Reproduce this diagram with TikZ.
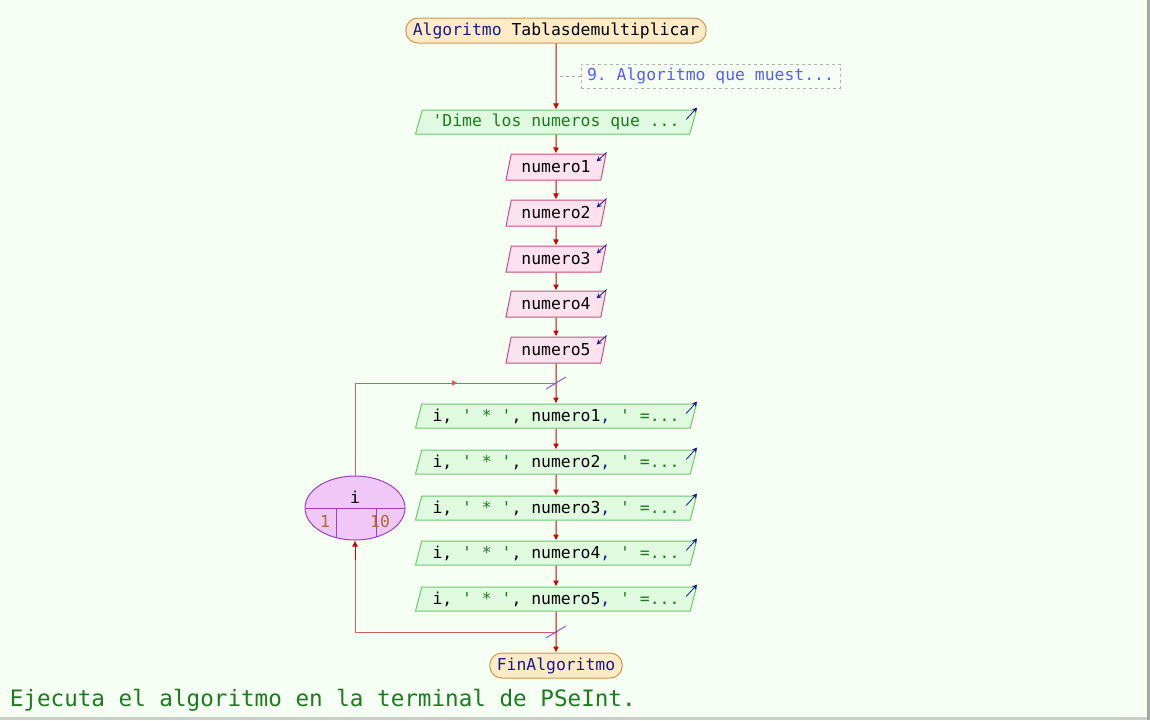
\documentclass[tikz,border=0pt]{standalone}
\usepackage{fontspec}
\setmonofont{DejaVu Sans Mono}
\usetikzlibrary{shapes.geometric,arrows.meta}
\definecolor{fondo}{HTML}{F5FFF3}
\definecolor{termfondo}{HTML}{FDEBC8}
\definecolor{termborde}{HTML}{CC9A4A}
\definecolor{salfondo}{HTML}{E0FAE0}
\definecolor{salborde}{HTML}{6CC86C}
\definecolor{entfondo}{HTML}{FCE2EE}
\definecolor{entborde}{HTML}{C85080}
\definecolor{lazofondo}{HTML}{F0C8F8}
\definecolor{lazoborde}{HTML}{A040C0}
\definecolor{rojo}{HTML}{CC0000}
\definecolor{rojoclaro}{HTML}{D06060}
\definecolor{azul}{HTML}{1A1A8C}
\definecolor{verde}{HTML}{1E7A1E}
\definecolor{coment}{HTML}{5A5AFF}
\definecolor{cafe}{HTML}{B06A30}
\tikzset{
  terminal/.style={rounded corners=12pt,draw=termborde,fill=termfondo,minimum height=25pt,inner xsep=7pt,inner ysep=0pt},
  salida/.style={trapezium,trapezium left angle=67,trapezium right angle=113,trapezium stretches body=true,draw=salborde,fill=salfondo,minimum width=281pt,minimum height=24pt,inner sep=0pt},
  entrada/.style={trapezium,trapezium left angle=67,trapezium right angle=113,trapezium stretches body=true,draw=entborde,fill=entfondo,minimum width=100pt,minimum height=26pt,inner sep=0pt},
  flujo/.style={draw=rojo,-{Latex[length=6pt,width=6pt]}},
  icono/.style={azul,line width=0.8pt,-{Stealth[length=5pt,width=5pt]}},
  corte/.style={draw=lazoborde!70!blue!80,line width=1pt}
}
\begin{document}
\begin{tikzpicture}[x=1pt,y=-1pt,line width=1pt,font=\ttfamily\fontsize{16.4}{19}\selectfont]
  \fill[fondo](0,0)rectangle(1150,720);
  \useasboundingbox(0,0)rectangle(1150,720);
  \fill[gray!70](1147,0)rectangle(1150,720);
  \fill[gray!40](0,717)rectangle(1147,720);
  % inicio
  \node[terminal](inicio)at(556,30.5){\textcolor{azul}{Algoritmo} Tablasdemultiplicar};
  \node[salida](msg)at(556,122){\textcolor{verde}{'Dime los numeros que ...}};
  \draw[flujo](inicio)--(msg);
  % comentario
  \node[draw=gray!60,dashed,fill=fondo,minimum width=259pt,minimum height=24pt,inner sep=0pt,text=coment](com)at(710.5,76){9. Algoritmo que muest...};
  \draw[gray!70,dashed](560,76)--(com.west);
  % lecturas
  \foreach \n/\y in {1/167,2/213,3/259,4/304,5/350}{
    \node[entrada](in\n)at(556,\y){numero\n};
    \draw[icono](in\n.top right corner)++(0,-1)--++(-10,9);
  }
  \draw[icono](msg.top right corner)++(-11,10)--++(11,-12);
  \draw[flujo](msg)--(in1);
  \foreach \a/\b in {1/2,2/3,3/4,4/5}\draw[flujo](in\a)--(in\b);
  % lazo para
  \coordinate(ini)at(556,383);
  \coordinate(fin)at(556,632);
  \foreach \n/\y in {1/416,2/462,3/508,4/553,5/599}{
    \node[salida](out\n)at(556,\y){i, \textcolor{verde}{' * '}, numero\n\textcolor{azul}{,} \textcolor{verde}{' =...}};
    \draw[icono](out\n.top right corner)++(-11,10)--++(11,-12);
  }
  \draw[flujo](in5)--(out1);
  \foreach \a/\b in {1/2,2/3,3/4,4/5}\draw[flujo](out\a)--(out\b);
  \node[ellipse,draw=lazoborde,fill=lazofondo,minimum width=100pt,minimum height=64pt,inner sep=0pt](lazo)at(355,508){};
  \begin{scope}
    \clip(355,508)ellipse[x radius=50pt,y radius=32pt];
    \draw[lazoborde](lazo.west)--(lazo.east);
    \draw[lazoborde](336,508)--(336,545)(376,508)--(376,545);
  \end{scope}
  \node(var)at(355,497){i};
  \node[text=cafe](desde)at(325,522){1};
  \node[text=cafe](hasta)at(380,522){10};
  \draw[rojoclaro](lazo.north)|-(ini);
  \draw[rojoclaro,-{Latex[length=6pt,width=6pt]}](lazo.north|-ini)--(458,383);
  \draw[rojoclaro](fin)-|(355,548);
  \draw[rojo,-{Latex[length=6pt,width=6pt]}](355,560)--(lazo.south);
  \draw[corte](546,389)--(566,377);
  \draw[corte](546,638)--(566,626);
  % fin
  \node[terminal](finalg)at(556,665.5){\textcolor{azul}{FinAlgoritmo}};
  \draw[flujo](out5)--(finalg);
  \node[anchor=base west,text=verde,font=\ttfamily\fontsize{22.6}{26}\selectfont](nota)at(6,706){Ejecuta el algoritmo en la terminal de PSeInt.};
\end{tikzpicture}
\end{document}
